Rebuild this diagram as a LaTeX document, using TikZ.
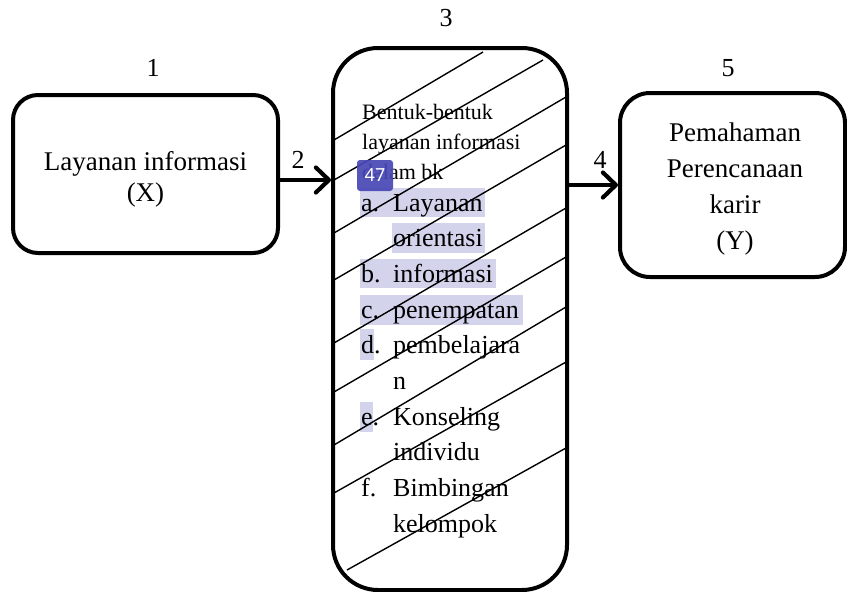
\documentclass[tikz,border=0pt]{standalone}
\usepackage{fontspec}
\setmainfont{Liberation Serif}
\newfontfamily\badgefont{Noto Sans}
\usetikzlibrary{arrows.meta}
\definecolor{hl}{HTML}{D3D3EC}
\definecolor{badgeblue}{HTML}{4747B5}
\begin{document}
\begin{tikzpicture}[x=1pt,y=-1pt,
  roundbox/.style={draw=black,line width=4pt,rounded corners=#1,inner sep=0pt,align=center},
  roundbox/.default=25pt,
  boxtext/.style={align=center,inner sep=0pt},
  num/.style={font=\fontsize{26}{30}\selectfont,inner sep=0pt},
  arr/.style={line width=4.2pt,-{Straight Barb[length=13pt,width=25pt,round]}},
  hatch/.style={line width=1.4pt},
  head/.style={anchor=base west,inner sep=0pt,font=\fontsize{22}{26}\selectfont},
  item/.style={anchor=base west,inner sep=0pt,font=\fontsize{26}{30}\selectfont},
  hlbox/.style={fill=hl}
]
\fill[white] (0,0) rectangle (847,592);
\useasboundingbox (0,0) rectangle (847,592);

% boxes
\node[roundbox=25pt,minimum width=265pt,minimum height=158pt] (left) at (145.5,174) {};
\node[boxtext,font=\fontsize{27}{31}\selectfont] (lefttext) at (145.5,179)
      {Layanan informasi\\(X)};
\node[roundbox=45pt,minimum width=234pt,minimum height=542pt] (mid) at (450,319) {};
\node[roundbox=30pt,minimum width=225pt,minimum height=184pt] (right) at (732.5,185) {};
\node[boxtext,font=\fontsize{27}{36}\selectfont] (righttext) at (735,189)
      {Pemahaman\\Perencanaan\\karir\\(Y)};

% highlights
\fill[hlbox] (360,188) rectangle (485,217);
\fill[hlbox] (392,223) rectangle (485,253);
\fill[hlbox] (360,259) rectangle (496,288);
\fill[hlbox] (360,295) rectangle (523,325);
\fill[hlbox] (360,329) rectangle (374,360);
\fill[hlbox] (360,402) rectangle (373,432);

% hatch lines
\draw[hatch] (334,140) -- (483,52);
\draw[hatch] (334,180) -- (543,60);
\draw[hatch] (334,233) -- (566,97);
\draw[hatch] (334,280) -- (566,145);
\draw[hatch] (334,343) -- (566,208);
\draw[hatch] (334,392) -- (566,257);
\draw[hatch] (334,445) -- (566,307);
\draw[hatch] (334,493) -- (566,362);
\draw[hatch] (347,570) -- (566,448);

% header text
\node[head] (h1) at (362,119) {Bentuk-bentuk};
\node[head] (h2) at (362,149) {layanan informasi};
\node[head] (h3) at (362,179) {dalam bk};

% list
\node[item] (la) at (361,211) {a.};
\node[item] (ta) at (393,211) {Layanan};
\node[item] (ta2) at (393,246) {orientasi};
\node[item] (lb) at (361,282) {b.};
\node[item] (tb) at (393,282) {informasi};
\node[item] (lc) at (361,318) {c.};
\node[item] (tc) at (393,318) {penempatan};
\node[item] (ld) at (361,353) {d.};
\node[item] (td) at (393,353) {pembelajara};
\node[item] (td2) at (393,389) {n};
\node[item] (le) at (361,425) {e.};
\node[item] (te) at (393,425) {Konseling};
\node[item] (te2) at (393,460) {individu};
\node[item] (lf) at (361,496) {f.};
\node[item] (tf) at (393,496) {Bimbingan};
\node[item] (tf2) at (393,532) {kelompok};

% badge
\node[fill=badgeblue,fill opacity=0.92,text opacity=1,text=white,rounded corners=3pt,
      minimum width=36pt,minimum height=31pt,inner sep=0pt,
      font=\badgefont\fontsize{18}{20}\selectfont] (badge) at (375,175.5) {47};

% numbers
\node[num] (n1) at (153,68) {1};
\node[num] (n2) at (298,160) {2};
\node[num] (n3) at (446,18) {3};
\node[num] (n4) at (600,160) {4};
\node[num] (n5) at (728,68) {5};

% connectors
\draw[arr] ([yshift=-6pt]left.east) -- ([yshift=-6pt]left.east -| mid.west);
\draw[arr] (right.west -| mid.east) -- (right.west);
\end{tikzpicture}
\end{document}
